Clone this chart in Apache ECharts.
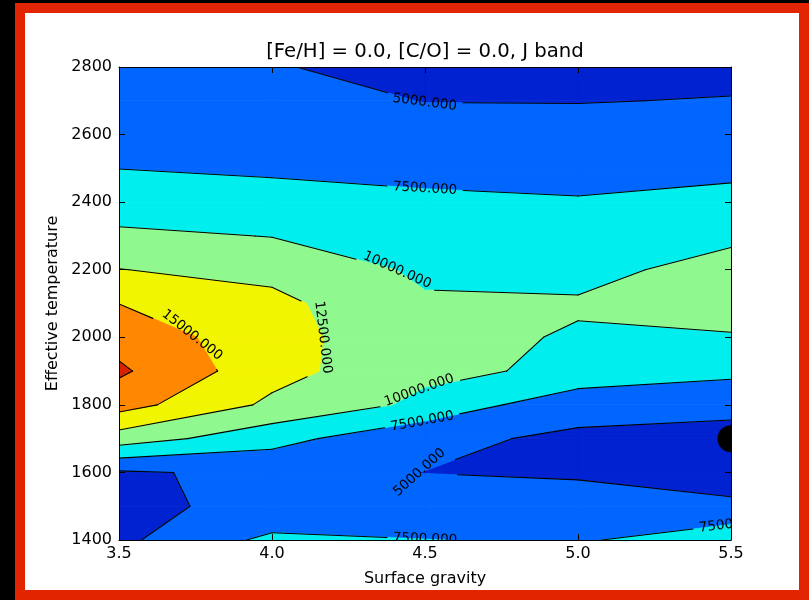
<!DOCTYPE html>
<html>
<head>
<meta charset="utf-8">
<title>[Fe/H] = 0.0, [C/O] = 0.0, J band</title>
<script src="https://cdn.jsdelivr.net/npm/echarts@6/dist/echarts.min.js"></script>
<style>
  html, body { margin: 0; padding: 0; background: #000; }
  #frame { position: absolute; left: 15px; top: 3px; width: 794px; height: 597px; background: #e32400; }
  #paper { position: absolute; left: 25px; top: 13px; width: 774px; height: 577px; background: #fff; }
  #chart { position: absolute; left: 0; top: 0; width: 809px; height: 600px; }
</style>
</head>
<body>
<div id="frame"></div>
<div id="paper"></div>
<div id="chart"></div>
<script>
// Model grid: surface gravity (log g) columns and effective temperature rows
const gravity = [3.5, 4.0, 4.5, 5.0, 5.5];
const temperature = [1400, 1500, 1600, 1700, 1800, 1900, 2000, 2100, 2200, 2300, 2400, 2500, 2600, 2700, 2800];

// J-band flux on the grid, one array per gravity, ordered by temperature
const fluxG35 = [4461, 4737, 4700, 11300, 16000, 17900, 16567, 14980, 12550, 10600, 8378, 7482, 6900, 6400, 6000];
const fluxG40 = [8105, 5304, 5540, 8400, 12000, 13400, 13500, 13150, 11796, 9925, 8200, 7228, 6400, 5783, 5095];
const fluxG45 = [7550, 5646, 4980, 5380, 9457, 10497, 10500, 10274, 9589, 9200, 7900, 6900, 5950, 4950, 4500];
const fluxG50 = [7175, 5500, 4859, 4709, 5600, 9566, 9854, 10152, 9544, 8600, 7700, 6589, 5900, 4922, 4400];
const fluxG55 = [9289, 5400, 3971, 4200, 5655, 8083, 9859, 10800, 10580, 9701, 8100, 7047, 6000, 5100, 4386];

// Contour levels (filled bands lie between consecutive levels)
const levels = [2500, 5000, 7500, 10000, 12500, 15000, 17500, 20000];

// Highlighted object on the grid: [log g, Teff]
const objectPoint = [5.5, 1700];

// Axis ticks
const gravityTicks = [3.5, 4.0, 4.5, 5.0, 5.5];
const temperatureTicks = [1400, 1600, 1800, 2000, 2200, 2400, 2600, 2800];

// ---- styling ----
const bandColors = ['#0022d0', '#0066ff', '#00eeee', '#8ff98f', '#f2f500', '#ff8800', '#d92300'];
const FONT = 'DejaVu Sans';
const LABEL_SIZE = 13.5;

// Where inline contour labels sit (snapped onto the contour of that level)
const labelSpots = [
  { level: 5000, at: [4.5, 2700] },
  { level: 7500, at: [4.5, 2440] },
  { level: 10000, at: [4.41, 2200] },
  { level: 15000, at: [3.74, 2010] },
  { level: 12500, at: [4.17, 2000] },
  { level: 10000, at: [4.48, 1845] },
  { level: 7500, at: [4.49, 1755] },
  { level: 5000, at: [4.48, 1600], angle: -42 },
  { level: 7500, at: [4.5, 1400], angle: 2 },
  { level: 7500, at: [5.5, 1446], angle: -7 }
];

const fluxColumns = [fluxG35, fluxG40, fluxG45, fluxG50, fluxG55];

function cellCorners(i, j) {
  return [
    [gravity[i], temperature[j], fluxColumns[i][j]],
    [gravity[i + 1], temperature[j], fluxColumns[i + 1][j]],
    [gravity[i + 1], temperature[j + 1], fluxColumns[i + 1][j + 1]],
    [gravity[i], temperature[j + 1], fluxColumns[i][j + 1]]
  ];
}

function lerpPoint(p, q, t) {
  return [p[0] + t * (q[0] - p[0]), p[1] + t * (q[1] - p[1])];
}

// Filled bands: clip each grid cell's outline to every level band
const fillPieces = [];
for (let i = 0; i < gravity.length - 1; i++) {
  for (let j = 0; j < temperature.length - 1; j++) {
    const corners = cellCorners(i, j);
    for (let b = 0; b < levels.length - 1; b++) {
      const lo = levels[b], hi = levels[b + 1];
      const pts = [];
      for (let k = 0; k < 4; k++) {
        const p = corners[k], q = corners[(k + 1) % 4];
        if (p[2] >= lo && p[2] < hi) pts.push([p[0], p[1]]);
        const cuts = [];
        [lo, hi].forEach(function (L) {
          if ((p[2] - L) * (q[2] - L) < 0) cuts.push((L - p[2]) / (q[2] - p[2]));
        });
        cuts.sort(function (a, c) { return a - c; });
        cuts.forEach(function (t) { pts.push(lerpPoint(p, q, t)); });
      }
      if (pts.length >= 3) fillPieces.push({ band: b, pts: pts });
    }
  }
}

// Contour line segments for one level (marching squares)
function levelSegments(L) {
  const segs = [];
  for (let i = 0; i < gravity.length - 1; i++) {
    for (let j = 0; j < temperature.length - 1; j++) {
      const corners = cellCorners(i, j);
      const cuts = [];
      for (let k = 0; k < 4; k++) {
        const p = corners[k], q = corners[(k + 1) % 4];
        if ((p[2] - L) * (q[2] - L) < 0) cuts.push(lerpPoint(p, q, (L - p[2]) / (q[2] - p[2])));
      }
      if (cuts.length === 2) {
        segs.push([cuts[0], cuts[1]]);
      } else if (cuts.length === 4) {
        const centre = (corners[0][2] + corners[1][2] + corners[2][2] + corners[3][2]) / 4;
        if ((centre > L) === (corners[0][2] > L)) {
          segs.push([cuts[0], cuts[1]]); segs.push([cuts[2], cuts[3]]);
        } else {
          segs.push([cuts[3], cuts[0]]); segs.push([cuts[1], cuts[2]]);
        }
      }
    }
  }
  return segs;
}

const lineLevels = levels.slice();
const segmentsByLevel = {};
lineLevels.forEach(function (L) { segmentsByLevel[L] = levelSegments(L); });

const measureCtx = document.createElement('canvas').getContext('2d');
measureCtx.font = LABEL_SIZE + 'px "' + FONT + '"';

function nearestOnSegments(segs, pt) {
  let best = null, bestD = Infinity;
  segs.forEach(function (s) {
    const a = s[0], b = s[1];
    const dx = b[0] - a[0], dy = b[1] - a[1];
    const len2 = dx * dx + dy * dy || 1e-9;
    let t = ((pt[0] - a[0]) * dx + (pt[1] - a[1]) * dy) / len2;
    t = Math.max(0, Math.min(1, t));
    const px = a[0] + t * dx, py = a[1] + t * dy;
    const d = (px - pt[0]) * (px - pt[0]) + (py - pt[1]) * (py - pt[1]);
    if (d < bestD) { bestD = d; best = [px, py]; }
  });
  return best;
}

// parameter interval of segment a->b lying inside circle (c, r)
function circleInterval(a, b, c, r) {
  const dx = b[0] - a[0], dy = b[1] - a[1];
  const fx = a[0] - c[0], fy = a[1] - c[1];
  const A = dx * dx + dy * dy, B = 2 * (fx * dx + fy * dy), C = fx * fx + fy * fy - r * r;
  const disc = B * B - 4 * A * C;
  if (A < 1e-12 || disc <= 0) return null;
  const sq = Math.sqrt(disc);
  return [(-B - sq) / (2 * A), (-B + sq) / (2 * A)];
}

function renderContourLines(params, api) {
  const children = [];
  const pxSegs = {};
  lineLevels.forEach(function (L) {
    pxSegs[L] = segmentsByLevel[L].map(function (s) { return [api.coord(s[0]), api.coord(s[1])]; });
  });

  const gaps = [];
  labelSpots.forEach(function (spot) {
    const segs = pxSegs[spot.level];
    if (!segs.length) return;
    const centre = nearestOnSegments(segs, api.coord(spot.at));
    const text = spot.level.toFixed(3);
    const half = measureCtx.measureText(text).width / 2;
    let theta;
    if (spot.angle !== undefined) {
      theta = spot.angle * Math.PI / 180;
    } else {
      const hits = [];
      segs.forEach(function (s) {
        const iv = circleInterval(s[0], s[1], centre, half);
        if (!iv) return;
        iv.forEach(function (t) {
          if (t >= 0 && t <= 1) hits.push([s[0][0] + t * (s[1][0] - s[0][0]), s[0][1] + t * (s[1][1] - s[0][1])]);
        });
      });
      let p1 = null, p2 = null, far = -1;
      for (let a = 0; a < hits.length; a++) {
        for (let b = a + 1; b < hits.length; b++) {
          const d = Math.hypot(hits[a][0] - hits[b][0], hits[a][1] - hits[b][1]);
          if (d > far) { far = d; p1 = hits[a]; p2 = hits[b]; }
        }
      }
      theta = p1 ? Math.atan2(p2[1] - p1[1], p2[0] - p1[0]) : 0;
      if (theta > Math.PI / 2) theta -= Math.PI;
      if (theta <= -Math.PI / 2) theta += Math.PI;
    }
    children.push({
      type: 'text',
      x: centre[0], y: centre[1],
      rotation: -theta,
      z2: 5,
      style: {
        text: text, fill: '#000', fontSize: LABEL_SIZE, fontFamily: FONT,
        align: 'center', verticalAlign: 'middle'
      }
    });
    gaps.push({ level: spot.level, c: centre, r: half + 6 });
  });

  lineLevels.forEach(function (L) {
    const myGaps = gaps.filter(function (g) { return g.level === L; });
    pxSegs[L].forEach(function (s) {
      let pieces = [[0, 1]];
      myGaps.forEach(function (g) {
        const iv = circleInterval(s[0], s[1], g.c, g.r);
        if (!iv) return;
        const next = [];
        pieces.forEach(function (pc) {
          if (iv[1] <= pc[0] || iv[0] >= pc[1]) { next.push(pc); return; }
          if (iv[0] > pc[0]) next.push([pc[0], iv[0]]);
          if (iv[1] < pc[1]) next.push([iv[1], pc[1]]);
        });
        pieces = next;
      });
      pieces.forEach(function (pc) {
        if (pc[1] - pc[0] < 1e-6) return;
        const a = s[0], b = s[1];
        children.push({
          type: 'line',
          shape: {
            x1: a[0] + pc[0] * (b[0] - a[0]), y1: a[1] + pc[0] * (b[1] - a[1]),
            x2: a[0] + pc[1] * (b[0] - a[0]), y2: a[1] + pc[1] * (b[1] - a[1])
          },
          style: { stroke: '#000', lineWidth: 1.1, lineCap: 'round' }
        });
      });
    });
  });
  return { type: 'group', children: children };
}

const tickStyle = { color: '#000', width: 1 };
const axisText = { fontSize: 16, fontFamily: FONT, color: '#000' };

const chart = echarts.init(document.getElementById('chart'), null, { renderer: 'canvas' });
chart.setOption({
  animation: false,
  backgroundColor: 'transparent',
  graphic: [{
    type: 'text', x: 425, y: 52, z: 20,
    style: {
      text: '[Fe/H] = 0.0, [C/O] = 0.0, J band', fill: '#000',
      fontSize: 19.7, fontFamily: FONT, align: 'center', verticalAlign: 'middle'
    }
  }],
  grid: { left: 119, top: 67, width: 612, height: 473, containLabel: false },
  xAxis: [{
    type: 'value', position: 'bottom', z: 10,
    min: gravityTicks[0], max: gravityTicks[gravityTicks.length - 1],
    interval: gravityTicks[1] - gravityTicks[0],
    axisLine: { show: true, onZero: false, lineStyle: tickStyle },
    axisTick: { show: true, inside: true, length: 6, lineStyle: tickStyle },
    axisLabel: Object.assign({ margin: 6, formatter: function (v) { return v.toFixed(1); } }, axisText),
    splitLine: { show: false },
    name: 'Surface gravity', nameLocation: 'middle', nameGap: 31,
    nameTextStyle: axisText
  }, {
    type: 'value', position: 'top', z: 10,
    min: gravityTicks[0], max: gravityTicks[gravityTicks.length - 1],
    interval: gravityTicks[1] - gravityTicks[0],
    axisLine: { show: true, onZero: false, lineStyle: tickStyle },
    axisTick: { show: true, inside: true, length: 6, lineStyle: tickStyle },
    axisLabel: { show: false },
    splitLine: { show: false }
  }],
  yAxis: [{
    type: 'value', position: 'left', z: 10,
    min: temperatureTicks[0], max: temperatureTicks[temperatureTicks.length - 1],
    interval: temperatureTicks[1] - temperatureTicks[0],
    axisLine: { show: true, onZero: false, lineStyle: tickStyle },
    axisTick: { show: true, inside: true, length: 6, lineStyle: tickStyle },
    axisLabel: Object.assign({ margin: 7, formatter: function (v) { return String(v); } }, axisText),
    splitLine: { show: false },
    name: 'Effective temperature', nameLocation: 'middle', nameGap: 41, nameRotate: 90,
    nameTextStyle: axisText
  }, {
    type: 'value', position: 'right', z: 10,
    min: temperatureTicks[0], max: temperatureTicks[temperatureTicks.length - 1],
    interval: temperatureTicks[1] - temperatureTicks[0],
    axisLine: { show: true, onZero: false, lineStyle: tickStyle },
    axisTick: { show: true, inside: true, length: 6, lineStyle: tickStyle },
    axisLabel: { show: false },
    splitLine: { show: false }
  }],
  series: [{
    type: 'custom', name: 'bands', z: 1, clip: true,
    xAxisIndex: 0, yAxisIndex: 0,
    data: fillPieces.map(function (p, idx) { return [p.pts[0][0], p.pts[0][1], idx]; }),
    renderItem: function (params, api) {
      const piece = fillPieces[api.value(2)];
      const color = bandColors[piece.band];
      return {
        type: 'polygon',
        shape: { points: piece.pts.map(function (p) { return api.coord(p); }) },
        style: { fill: color, stroke: color, lineWidth: 0.8 }
      };
    }
  }, {
    type: 'custom', name: 'contours', z: 3, clip: true,
    xAxisIndex: 0, yAxisIndex: 0,
    data: [[gravity[0], temperature[0], 0]],
    renderItem: renderContourLines
  }, {
    type: 'custom', name: 'object', z: 4, clip: true,
    xAxisIndex: 0, yAxisIndex: 0,
    data: [objectPoint],
    renderItem: function (params, api) {
      const c = api.coord([api.value(0), api.value(1)]);
      return { type: 'circle', shape: { cx: c[0], cy: c[1], r: 13.5 }, style: { fill: '#000' } };
    }
  }]
});
</script>
</body>
</html>
